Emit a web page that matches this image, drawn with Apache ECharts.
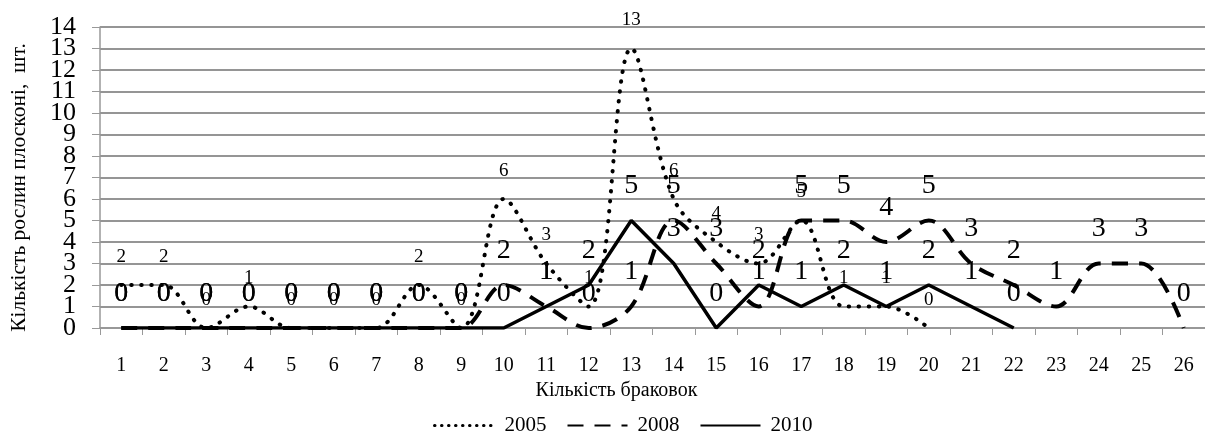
<!DOCTYPE html>
<html>
<head>
<meta charset="utf-8">
<script src="https://cdn.jsdelivr.net/npm/echarts@6/dist/echarts.min.js"></script>
<style>
html,body{margin:0;padding:0;background:#fff;}
#chart{width:1205px;height:434px;}
</style>
</head>
<body>
<div id="chart"></div>
<script>
var categories = ['1','2','3','4','5','6','7','8','9','10','11','12','13','14','15','16','17','18','19','20','21','22','23','24','25','26'];
var s2005 = [2,2,0,1,0,0,0,2,0,6,3,1,13,6,4,3,5,1,1,0,null,null,null,null,null,null];
var s2008 = [0,0,0,0,0,0,0,0,0,2,1,0,1,5,3,1,5,5,4,5,3,2,1,3,3,0];
var s2010 = [0,0,0,0,0,0,0,0,0,0,1,2,5,3,0,2,1,2,1,2,1,0,null,null,null,null];
var yTicks = [0,1,2,3,4,5,6,7,8,9,10,11,12,13,14];

var FONT = 'Liberation Serif';
var chart = echarts.init(document.getElementById('chart'), null, {renderer:'canvas'});

function lineSeries(name, data, lineStyle, smooth, labelSize, labelDist, z) {
  return {
    name: name,
    type: 'line',
    yAxisIndex: 0,
    data: data,
    smooth: smooth,
    symbol: 'circle',
    symbolSize: 1,
    showSymbol: true,
    z: z,
    itemStyle: {color: '#000', opacity: 0},
    lineStyle: lineStyle,
    connectNulls: false,
    label: {
      show: true,
      position: 'top',
      distance: labelDist,
      fontFamily: FONT,
      fontSize: labelSize,
      color: '#000',
      opacity: 1
    },
    labelLayout: {hideOverlap: false},
    emphasis: {disabled: true}
  };
}

var yLabelStyle = {fontFamily: FONT, fontSize: 26, color: '#000', margin: 24};

var option = {
  animation: false,
  backgroundColor: '#fff',
  grid: {left: 100, right: -5, top: 27, bottom: 106, containLabel: false},
  legend: {
    data: [
      {name: '2005', lineStyle: {color: '#000', width: 3, type: [0.5, 6.5], cap: 'round'}},
      {name: '2008'},
      {name: '2010'}
    ],
    left: 428,
    top: 410,
    itemWidth: 60,
    itemHeight: 12,
    itemGap: 20,
    textStyle: {fontFamily: FONT, fontSize: 21, color: '#000', padding: [0,0,0,5]}
  },
  xAxis: {
    type: 'category',
    data: categories,
    boundaryGap: true,
    name: 'Кількість браковок',
    nameLocation: 'middle',
    nameGap: 50,
    nameTextStyle: {fontFamily: FONT, fontSize: 20, color: '#000', padding: [0,72,0,0]},
    axisLine: {lineStyle: {color: '#999', width: 1.5}},
    axisTick: {show: true, length: 7, lineStyle: {color: '#999', width: 1}},
    axisLabel: {fontFamily: FONT, fontSize: 20, color: '#000', margin: 28, interval: 0},
    splitLine: {show: false}
  },
  yAxis: [
    {
      type: 'value',
      position: 'left',
      min: 0,
      max: 14,
      interval: 1,
      name: 'Кількість рослин плосконі,  шт.',
      nameLocation: 'middle',
      nameRotate: 90,
      nameGap: 70,
      nameTextStyle: {fontFamily: FONT, fontSize: 21.5, color: '#000', padding: [0,20,0,0]},
      axisLine: {show: true, lineStyle: {color: '#999', width: 1.5}},
      axisTick: {show: true, length: 8, lineStyle: {color: '#999', width: 1}},
      splitLine: {show: true, showMinLine: true, showMaxLine: true, lineStyle: {color: '#959595', width: 2, type: 'solid'}},
      axisLabel: Object.assign({}, yLabelStyle, {
        showMinLabel: true,
        showMaxLabel: true,
        formatter: function (v) { return (v === 1 || v === 13) ? '' : String(v); }
      })
    },
    {
      type: 'value',
      position: 'left',
      offset: 0,
      min: 0,
      max: 14,
      interval: 1,
      axisLine: {show: false},
      axisTick: {show: false},
      splitLine: {show: false},
      axisLabel: Object.assign({}, yLabelStyle, {
        showMinLabel: false,
        showMaxLabel: false,
        formatter: function (v) { return (v === 1 || v === 13) ? String(v) : ''; }
      })
    }
  ],
  series: [
    lineSeries('2005', s2005, {color: '#000', width: 4, type: [0.5, 9.5], cap: 'round'}, 0.35, 19, 18, 3),
    lineSeries('2008', s2008, {color: '#000', width: 4, type: [16, 11], cap: 'butt'}, 0.35, 28, 20, 4),
    lineSeries('2010', s2010, {color: '#000', width: 3.5, type: 'solid'}, false, 28, 20, 5)
  ]
};
chart.setOption(option);
</script>
</body>
</html>
